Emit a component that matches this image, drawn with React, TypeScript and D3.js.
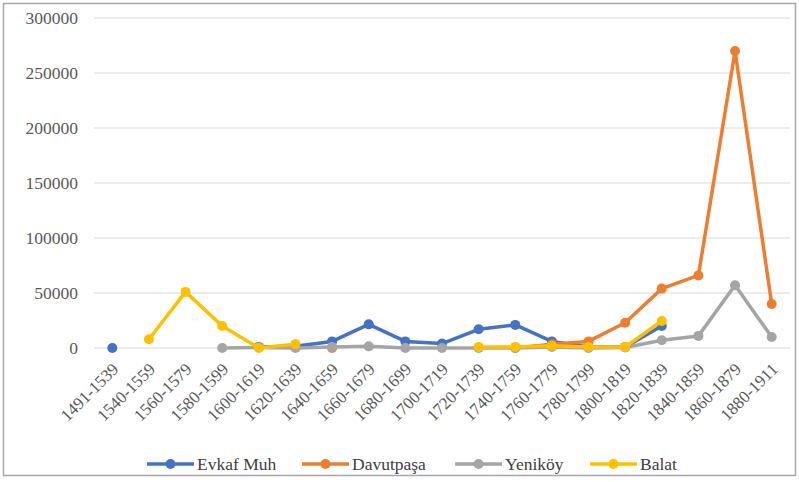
import React, { useEffect, useRef } from 'react';
import * as d3 from 'd3';

const categories = [
  '1491-1539', '1540-1559', '1560-1579', '1580-1599', '1600-1619', '1620-1639',
  '1640-1659', '1660-1679', '1680-1699', '1700-1719', '1720-1739', '1740-1759',
  '1760-1779', '1780-1799', '1800-1819', '1820-1839', '1840-1859', '1860-1879', '1880-1911',
];

type V = number | null;
const evkafMuh: V[] = [0, null, null, null, 1000, 1500, 6000, 21500, 6000, 4000, 17000, 21000, 6000, 1000, 1000, 20000, null, null, null];
const davutpasa: V[] = [null, null, null, null, null, null, 0, null, null, null, null, 0, 3500, 6000, 23000, 54000, 66000, 270000, 40000];
const yenikoy: V[] = [null, null, null, 0, 500, 0, 1000, 1500, 0, 0, 0, 0, 1000, 0, 500, 7000, 11000, 57000, 10000];
const balat: V[] = [null, 8000, 51000, 20000, 0, 3500, null, null, null, null, 1000, 1000, 2000, 1000, 1000, 24500, null, null, null];

const yTicks = [0, 50000, 100000, 150000, 200000, 250000, 300000];

const series = [
  { name: 'Evkaf Muh', values: evkafMuh, color: '#4472C4' },
  { name: 'Davutpaşa', values: davutpasa, color: '#ED7D31' },
  { name: 'Yeniköy', values: yenikoy, color: '#A5A5A5' },
  { name: 'Balat', values: balat, color: '#FFC000' },
];

const W = 799;
const H = 482;
const FONT = '"Liberation Serif", "Times New Roman", "DejaVu Serif", serif';

const App = () => {
  const ref = useRef<SVGSVGElement>(null);

  useEffect(() => {
    const svg = d3.select(ref.current);
    svg.selectAll('*').remove();

    svg.append('rect')
      .attr('x', 3.5).attr('y', 3.5)
      .attr('width', W - 7).attr('height', 472)
      .attr('fill', '#fff').attr('stroke', '#a6a6a6').attr('stroke-width', 1.5);

    const x = d3.scaleBand().domain(categories).range([94, 790]);
    const y = d3.scaleLinear().domain([0, 300000]).range([348, 18]);
    const cx = (c: string) => (x(c) as number) + x.bandwidth() / 2;

    // grid
    svg.append('g')
      .selectAll('line')
      .data(yTicks)
      .join('line')
      .attr('x1', 94).attr('x2', 790)
      .attr('y1', (d) => y(d)).attr('y2', (d) => y(d))
      .attr('stroke', '#d9d9d9').attr('stroke-width', 1);

    // y labels
    svg.append('g')
      .selectAll('text')
      .data(yTicks)
      .join('text')
      .attr('x', 78).attr('y', (d) => y(d))
      .attr('dy', '0.35em')
      .attr('text-anchor', 'end')
      .style('font-family', FONT).style('font-size', '17.5px')
      .attr('fill', '#595959')
      .text((d) => String(d));

    // x labels
    svg.append('g')
      .selectAll('text')
      .data(categories)
      .join('text')
      .attr('transform', (d) => `translate(${cx(d) + 3},${366}) rotate(-45)`)
      .attr('text-anchor', 'end')
      .attr('dy', '0.35em')
      .style('font-family', FONT).style('font-size', '17px')
      .attr('fill', '#595959')
      .text((d) => d);

    const line = d3.line<V>()
      .defined((d) => d !== null)
      .x((_, i) => cx(categories[i]))
      .y((d) => y(d as number));

    series.forEach((s) => {
      const g = svg.append('g');
      g.append('path')
        .attr('d', line(s.values))
        .attr('fill', 'none')
        .attr('stroke', s.color)
        .attr('stroke-width', 3.5)
        .attr('stroke-linejoin', 'round');
      g.selectAll('circle')
        .data(s.values.map((v, i) => ({ v, c: categories[i] })).filter((d) => d.v !== null))
        .join('circle')
        .attr('cx', (d) => cx(d.c))
        .attr('cy', (d) => y(d.v as number))
        .attr('r', 5)
        .attr('fill', s.color);
    });

    // legend
    const legendX = [147, 302, 455, 590];
    const lg = svg.append('g');
    series.forEach((s, i) => {
      const lx = legendX[i];
      lg.append('line')
        .attr('x1', lx).attr('x2', lx + 47)
        .attr('y1', 464).attr('y2', 464)
        .attr('stroke', s.color).attr('stroke-width', 3.5);
      lg.append('circle')
        .attr('cx', lx + 23.5).attr('cy', 464).attr('r', 5)
        .attr('fill', s.color);
      lg.append('text')
        .attr('x', lx + 50).attr('y', 464)
        .attr('dy', '0.35em')
        .style('font-family', FONT).style('font-size', '17.5px')
        .attr('fill', '#404040')
        .text(s.name);
    });
  }, []);

  return <svg ref={ref} width={W} height={H} style={{ position: 'absolute', left: 0, top: 0 }} />;
};

export default App;
